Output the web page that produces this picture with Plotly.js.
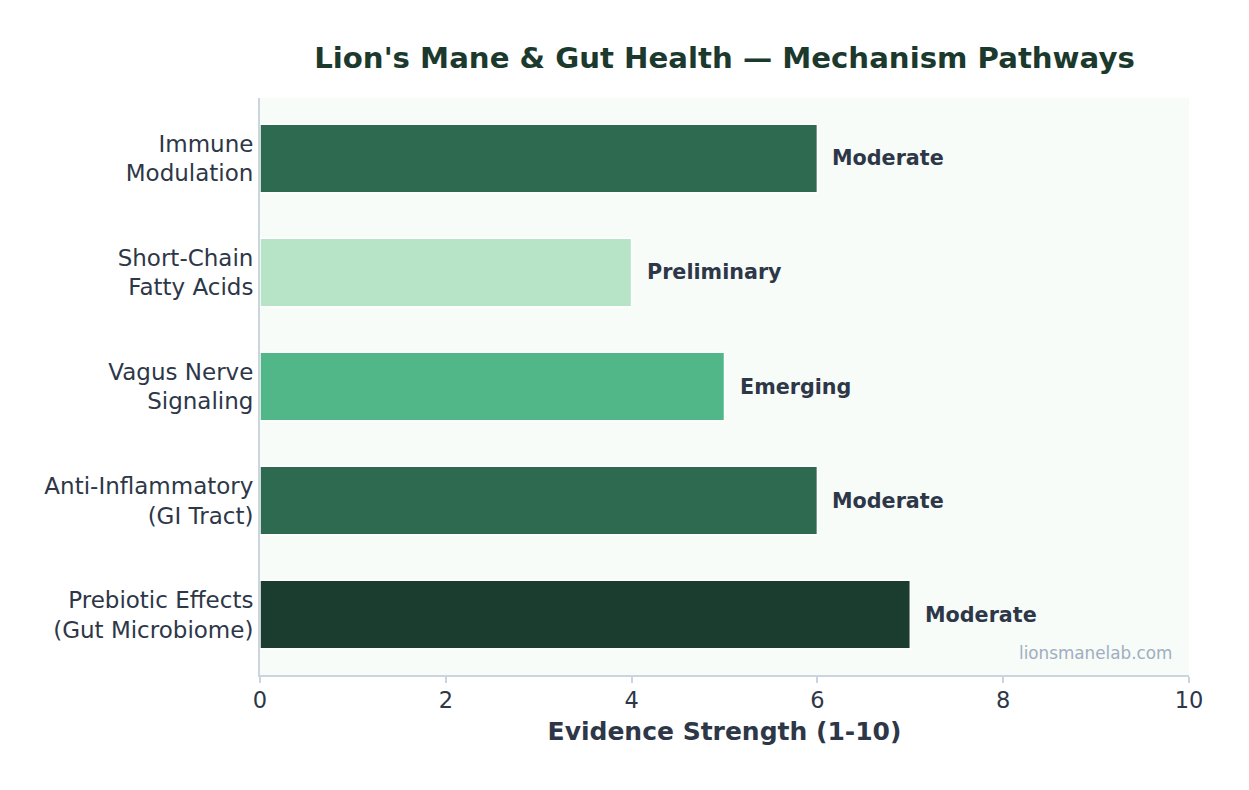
<!DOCTYPE html>
<html>
<head>
<meta charset="utf-8">
<script src="https://cdn.plot.ly/plotly-3.0.1.min.js"></script>
<style>
  html, body { margin: 0; padding: 0; background: #ffffff; }
  #chart { width: 1249px; height: 790px; }
</style>
</head>
<body>
<div id="chart"></div>
<script>
// Mechanism pathways, bottom to top as drawn
const pathways = [
    'Prebiotic Effects<br>(Gut Microbiome)',
    'Anti-Inflammatory<br>(GI Tract)',
    'Vagus Nerve<br>Signaling',
    'Short-Chain<br>Fatty Acids',
    'Immune<br>Modulation'
];
const strength = [7, 6, 5, 4, 6];
const evidence = ['Moderate', 'Moderate', 'Emerging', 'Preliminary', 'Moderate'];
const barColors = ['#1b3d2f', '#2d6a4f', '#52b788', '#b7e4c7', '#2d6a4f'];

const textColor = '#2d3748';
const axisColor = '#cbd5e0';

const trace = {
    type: 'bar',
    orientation: 'h',
    y: pathways,
    x: strength,
    width: 0.6,
    marker: {
        color: barColors,
        line: { color: '#ffffff', width: 1.5 }
    },
    hoverinfo: 'x+y'
};

// evidence level labels just past the bar ends
const labels = pathways.map((p, i) => ({
    x: strength[i],
    y: p,
    xref: 'x',
    yref: 'y',
    text: '<b>' + evidence[i] + '</b>',
    showarrow: false,
    xanchor: 'left',
    xshift: 13,
    font: { family: 'DejaVu Sans', size: 20.7, color: textColor }
}));

labels.push({
    x: 0.984,
    y: 0.018,
    xref: 'paper',
    yref: 'paper',
    xanchor: 'right',
    yanchor: 'bottom',
    text: 'lionsmanelab.com',
    showarrow: false,
    font: { family: 'DejaVu Sans', size: 16.8, color: '#a0aec0' }
});

const layout = {
    width: 1249,
    height: 790,
    margin: { l: 260, r: 60, t: 98, b: 115 },
    paper_bgcolor: '#ffffff',
    plot_bgcolor: '#f7fcf9',
    font: { family: 'DejaVu Sans', color: textColor, size: 23 },
    title: {
        text: "<b>Lion's Mane & Gut Health — Mechanism Pathways</b>",
        font: { family: 'DejaVu Sans', size: 29.2, color: '#1b3a2d' },
        x: 0.5,
        xref: 'paper',
        y: 0.927,
        yanchor: 'middle'
    },
    xaxis: {
        range: [0, 10],
        dtick: 2,
        showgrid: false,
        zeroline: false,
        showline: true,
        linecolor: axisColor,
        linewidth: 2,
        ticks: 'outside',
        ticklen: 6,
        tickwidth: 2,
        tickcolor: axisColor,
        ticklabelstandoff: -2,
        tickfont: { size: 22.5, color: textColor },
        title: {
            text: '<b>Evidence Strength (1-10)</b>',
            font: { size: 25, color: textColor },
            standoff: 10
        }
    },
    yaxis: {
        range: [-0.53, 4.53],
        showgrid: false,
        zeroline: false,
        showline: true,
        linecolor: axisColor,
        linewidth: 2,
        ticks: '',
        ticklabelstandoff: 0,
        tickfont: { size: 23, color: textColor }
    },
    annotations: labels,
    showlegend: false,
    bargap: 0.4
};

Plotly.newPlot('chart', [trace], layout, { displayModeBar: false });
</script>
</body>
</html>
